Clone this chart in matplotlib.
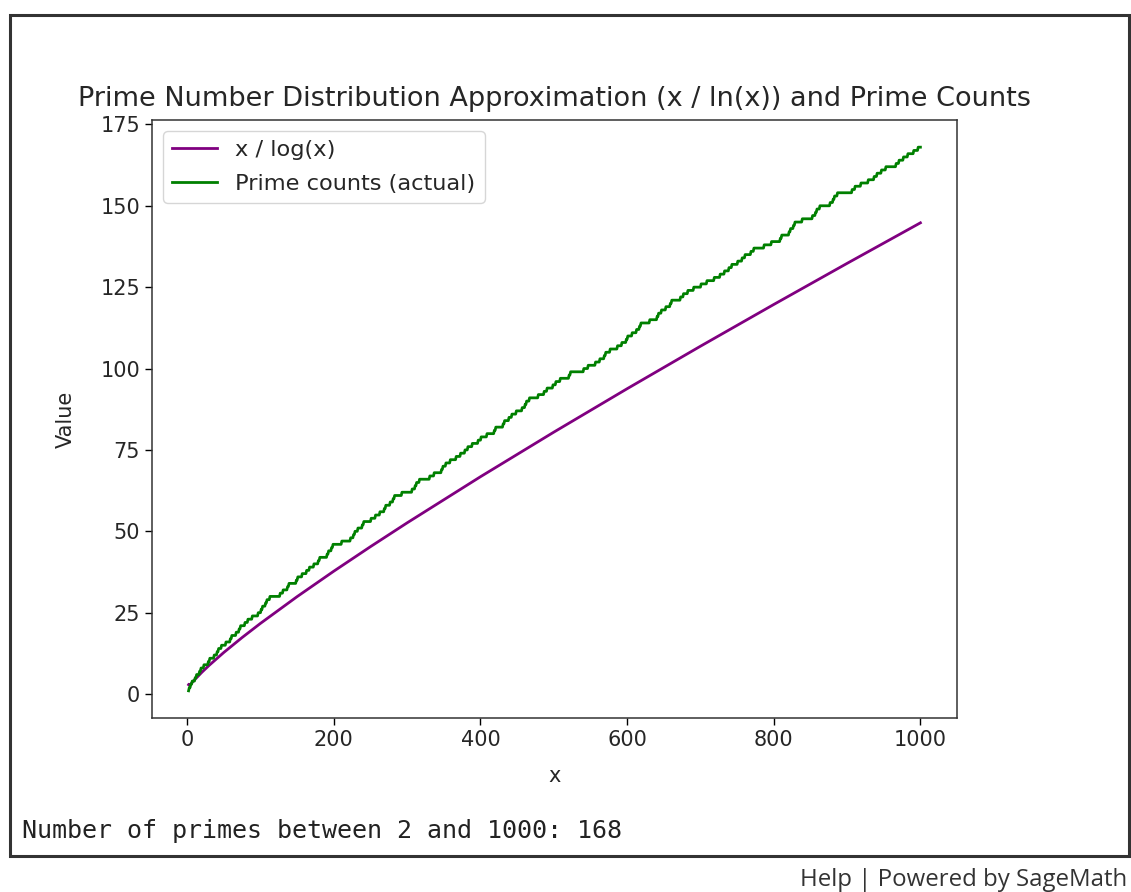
import numpy as np
import matplotlib
matplotlib.use("Agg")
import matplotlib.pyplot as plt
from matplotlib.patches import Rectangle

# primes up to 1000 (168 of them)
primes = [2, 3, 5, 7, 11, 13, 17, 19, 23, 29, 31, 37, 41, 43, 47, 53, 59, 61, 67, 71, 73, 79, 83, 89, 97,
          101, 103, 107, 109, 113, 127, 131, 137, 139, 149, 151, 157, 163, 167, 173, 179, 181, 191, 193, 197, 199,
          211, 223, 227, 229, 233, 239, 241, 251, 257, 263, 269, 271, 277, 281, 283, 293,
          307, 311, 313, 317, 331, 337, 347, 349, 353, 359, 367, 373, 379, 383, 389, 397,
          401, 409, 419, 421, 431, 433, 439, 443, 449, 457, 461, 463, 467, 479, 487, 491, 499,
          503, 509, 521, 523, 541, 547, 557, 563, 569, 571, 577, 587, 593, 599,
          601, 607, 613, 617, 619, 631, 641, 643, 647, 653, 659, 661, 673, 677, 683, 691,
          701, 709, 719, 727, 733, 739, 743, 751, 757, 761, 769, 773, 787, 797,
          809, 811, 821, 823, 827, 829, 839, 853, 857, 859, 863, 877, 881, 883, 887,
          907, 911, 919, 929, 937, 941, 947, 953, 967, 971, 977, 983, 991, 997]

# tabulated x / ln(x)
approx_x = [2, 3, 5, 10, 20, 30, 50, 75, 100, 150, 200, 250, 300, 400, 500, 600, 700, 800, 900, 1000]
approx_y = [2.885, 2.731, 3.107, 4.343, 6.676, 8.820, 12.781, 17.371, 21.715, 29.936, 37.748, 45.278,
            52.597, 66.762, 80.455, 93.795, 106.852, 119.678, 132.306, 144.765]

xs = np.arange(2, 1001)
counts = np.searchsorted(primes, xs, side="right")

txt = "#262626"
fig = plt.figure(figsize=(11.31, 8.92), dpi=100)
fig.patches.append(Rectangle((10 / 1131, 1 - 856 / 892), 1119 / 1131, 841 / 892, transform=fig.transFigure,
                             fill=False, edgecolor="#333333", linewidth=2.2))

ax = fig.add_axes([152 / 1131, 1 - 718 / 892, 805 / 1131, 598 / 892])
ax.plot(approx_x, approx_y, color="purple", linewidth=2, label="x / log(x)")
ax.plot(xs, counts, color="green", linewidth=2, label="Prime counts (actual)")
ax.set_title("Prime Number Distribution Approximation (x / ln(x)) and Prime Counts",
             fontsize=19.5, pad=10, color=txt)
ax.set_xlabel("x", fontsize=15, color=txt, labelpad=12)
ax.set_ylabel("Value", fontsize=15, color=txt, labelpad=18)
ax.tick_params(labelsize=15, length=5, width=1, labelcolor=txt)
ax.set_yticks([0, 25, 50, 75, 100, 125, 150, 175])
for s in ax.spines.values():
    s.set_linewidth(1.1)
    s.set_color("#333333")
leg = ax.legend(loc="upper left", fontsize=16.2, borderaxespad=0.5, labelspacing=0.6)
for t in leg.get_texts():
    t.set_color(txt)

fig.text(22 / 1131, 1 - 838 / 892, "Number of primes between 2 and 1000: 168", family="DejaVu Sans Mono",
         fontsize=18, color="#222222", va="baseline")
fig.text(1127 / 1131, 1 - 880 / 892, "Help | Powered by SageMath", family="Open Sans",
         fontsize=17.3, color="#333333", ha="right", va="center")

fig.savefig("out.png", dpi=100)
